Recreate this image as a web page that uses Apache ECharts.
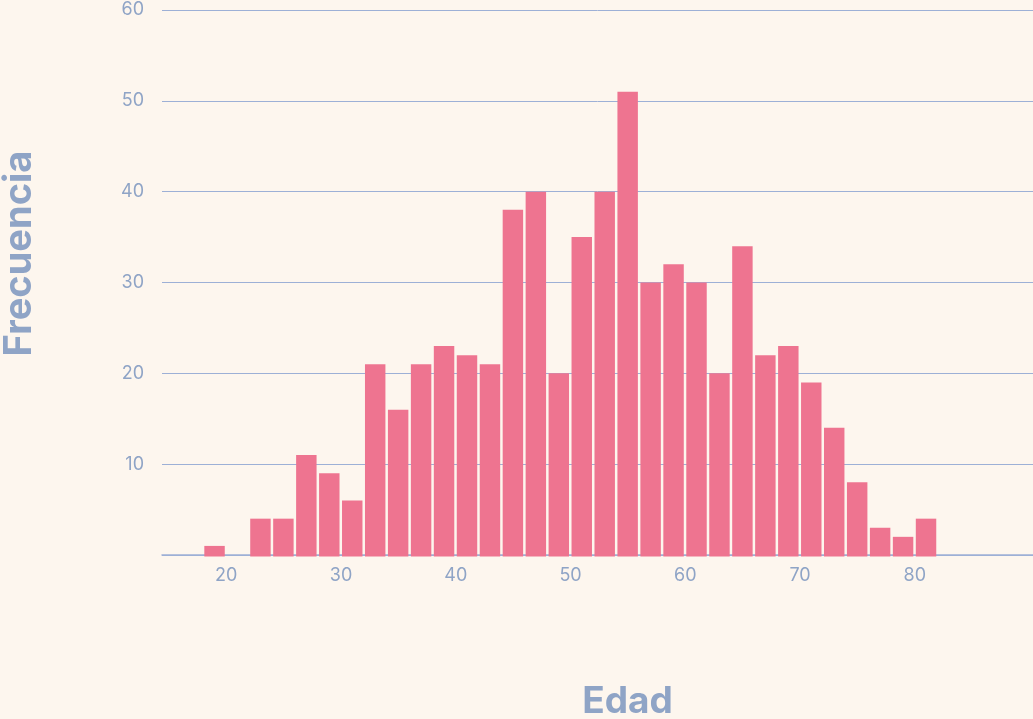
<!DOCTYPE html>
<html>
<head>
<meta charset="utf-8">
<script src="https://cdn.jsdelivr.net/npm/echarts@6/dist/echarts.min.js"></script>
<style>
  html, body { margin: 0; padding: 0; background: #fdf6ee; }
  #main { width: 1033px; height: 719px; }
</style>
</head>
<body>
<div id="main"></div>
<script>
// histograma de edades, clases de 2 años
const binStart = [18, 20, 22, 24, 26, 28, 30, 32, 34, 36, 38, 40, 42, 44, 46, 48,
  50, 52, 54, 56, 58, 60, 62, 64, 66, 68, 70, 72, 74, 76, 78, 80];
const binWidth = 2;
const counts = [1, 0, 4, 4, 11, 9, 6, 21, 16, 21, 23, 22, 21, 38, 40, 20,
  35, 40, 51, 30, 32, 30, 20, 34, 22, 23, 19, 14, 8, 3, 2, 4];
const xTicks = [20, 30, 40, 50, 60, 70, 80];

const chartDom = document.getElementById('main');
const myChart = echarts.init(chartDom);

const textColor = '#8fa4c6';
const lineColor = '#9db0d6';

const data = binStart.map((s, i) => [s, s + binWidth, counts[i]]);

const option = {
  backgroundColor: '#fdf6ee',
  animation: false,
  grid: { left: 162, right: 0, top: 10, bottom: 164, outerBoundsMode: 'none', containLabel: false },
  xAxis: {
    type: 'value',
    min: 14.4,
    max: 90.3,
    name: 'Edad',
    nameLocation: 'middle',
    nameGap: 128,
    nameTextStyle: {
      color: textColor, fontSize: 37, fontWeight: 'bold',
      fontFamily: 'Inter', padding: [0, 0, 0, 60]
    },
    axisLine: { show: true, lineStyle: { color: lineColor, width: 1.5 } },
    axisTick: { show: false },
    splitLine: { show: false },
    axisLabel: {
      customValues: xTicks,
      color: textColor, fontSize: 18, fontFamily: 'Inter', margin: 12
    }
  },
  yAxis: {
    type: 'value',
    min: 0,
    max: 60,
    interval: 10,
    name: 'Frecuencia',
    nameLocation: 'middle',
    nameGap: 123,
    nameTextStyle: {
      color: textColor, fontSize: 38, fontWeight: 'bold',
      fontFamily: 'Inter', padding: [0, 0, 0, 58]
    },
    axisLine: { show: false },
    axisTick: { show: false },
    splitLine: { lineStyle: { color: lineColor, width: 1 } },
    axisLabel: {
      color: textColor, fontSize: 18, fontFamily: 'Inter', margin: 18,
      formatter: v => (v === 0 ? '' : v)
    }
  },
  series: [{
    type: 'custom',
    data: data,
    encode: { x: [0, 1], y: 2 },
    z: 5,
    renderItem: function (params, api) {
      const p0 = api.coord([api.value(0), 0]);
      const p1 = api.coord([api.value(1), api.value(2)]);
      if (api.value(2) === 0) return null;
      return {
        type: 'rect',
        shape: { x: p0[0] + 1, y: p1[1], width: p1[0] - p0[0] - 2.5, height: p0[1] - p1[1] + 1.5 },
        style: { fill: '#ee7490' }
      };
    }
  }]
};

option && myChart.setOption(option);
window.addEventListener('resize', () => {
  myChart.resize();
});
</script>
</body>
</html>
